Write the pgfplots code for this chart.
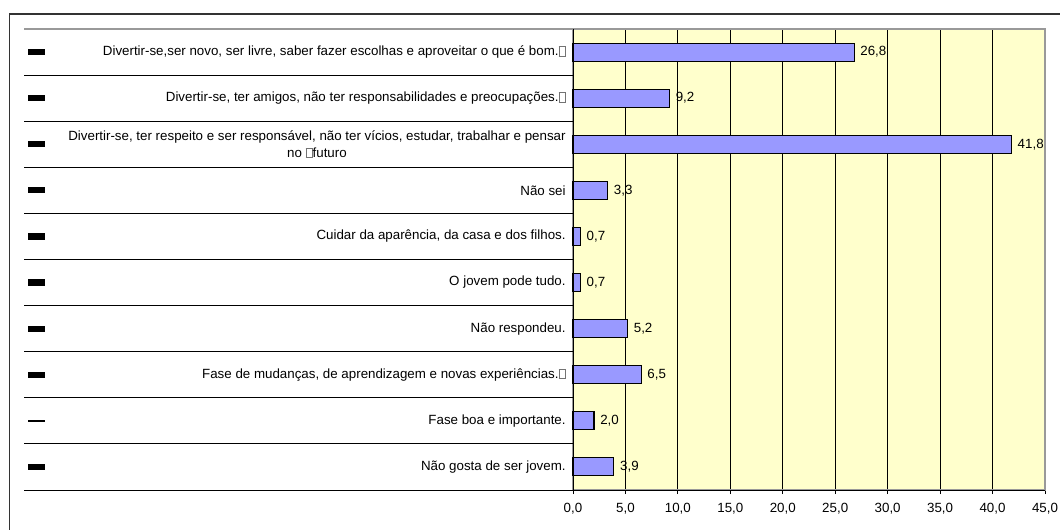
\documentclass[border=0pt]{standalone}
\usepackage{pgfplots}
\pgfplotsset{compat=1.18}
\usepackage{fontspec}
\setmainfont{Liberation Sans}
\definecolor{bgyel}{HTML}{FFFFCC}
\definecolor{barblue}{HTML}{9999FF}
\definecolor{frgray}{HTML}{999999}
\newcommand\sq{{\setlength{\fboxsep}{0pt}\setlength{\fboxrule}{0.35pt}\color{black!55}\fbox{\rule{0pt}{6.5pt}\rule{4.5pt}{0pt}}}}
\begin{document}
\begin{tikzpicture}
\begin{axis}[
  scale only axis,
  width=354pt, height=345.75pt,
  xbar, bar width=13.5pt,
  xmin=0, xmax=45, ymin=-0.5, ymax=9.5,
  xtick={0,5,...,45},
  ytick={0,...,9},
  yticklabels={{Não gosta de ser jovem.},{Fase boa e importante.},{Fase de mudanças, de aprendizagem e novas experiências.\sq},{Não respondeu.},{O jovem pode tudo.},{Cuidar da aparência, da casa e dos filhos.},{Não sei},{Divertir-se, ter respeito e ser responsável, não ter vícios, estudar, trabalhar e pensar\\no \sq futuro},{Divertir-se, ter amigos, não ter responsabilidades e preocupações.\sq},{Divertir-se,ser novo, ser livre, saber fazer escolhas e aproveitar o que é bom.\sq}},
  yticklabel style={font=\fontsize{10}{12.5}\selectfont, align=center, xshift=1pt},
  xticklabel style={font=\fontsize{10}{12}\selectfont, yshift=-3pt},
  /pgf/number format/.cd, fixed, fixed zerofill, precision=1, use comma, assume math mode=true,
  /pgfplots/.cd,
  xmajorgrids, major grid style={black, line width=0.6pt},
  major y tick style={draw=none},
  major x tick style={black, line width=0.6pt},
  xtick pos=bottom, tick align=outside, major tick length=3pt,
  axis background/.style={fill=bgyel},
  axis line style={frgray, line width=1pt},
  nodes near coords,
  nodes near coords style={font=\fontsize{10}{12}\selectfont, anchor=west, xshift=1pt},
  clip=false,
]
\addplot[fill=barblue, draw=black, line width=0.8pt] coordinates {
(3.9,0) (2.0,1) (6.5,2) (5.2,3) (0.7,4) (0.7,5) (3.3,6) (41.8,7) (9.2,8) (26.8,9)};
% axes lines left and bottom in black
\draw[black, line width=0.7pt] (rel axis cs:0,0) -- (rel axis cs:0,1);
\draw[black, line width=0.7pt] (rel axis cs:0,0) -- (rel axis cs:1,0);
% row separators
\draw[frgray, line width=0.9pt] (rel axis cs:-1.1631,1) -- (rel axis cs:0,1);
\pgfplotsinvokeforeach{0,...,9}{
  \draw[black, line width=0.7pt] (rel axis cs:-1.1631,#1/10) -- (rel axis cs:0,#1/10);
}
% keys
\pgfplotsinvokeforeach{0,2,3,4,5,6,7,8,9}{
  \fill[black] (axis cs:-51.96,#1-0.068) rectangle (axis cs:-50.34,#1+0.068);
}
\fill[black] (axis cs:-51.96,1-0.025) rectangle (axis cs:-50.34,1+0.025);
\end{axis}
% outer frame
\draw[black!80, line width=0.9pt] (-422.6pt,-40pt) -- (-422.6pt,357pt) -- (380pt,357pt);
\pgfresetboundingbox
\useasboundingbox (-429.75pt,-29.25pt) rectangle (365.25pt,367.5pt);
\end{tikzpicture}
\end{document}
